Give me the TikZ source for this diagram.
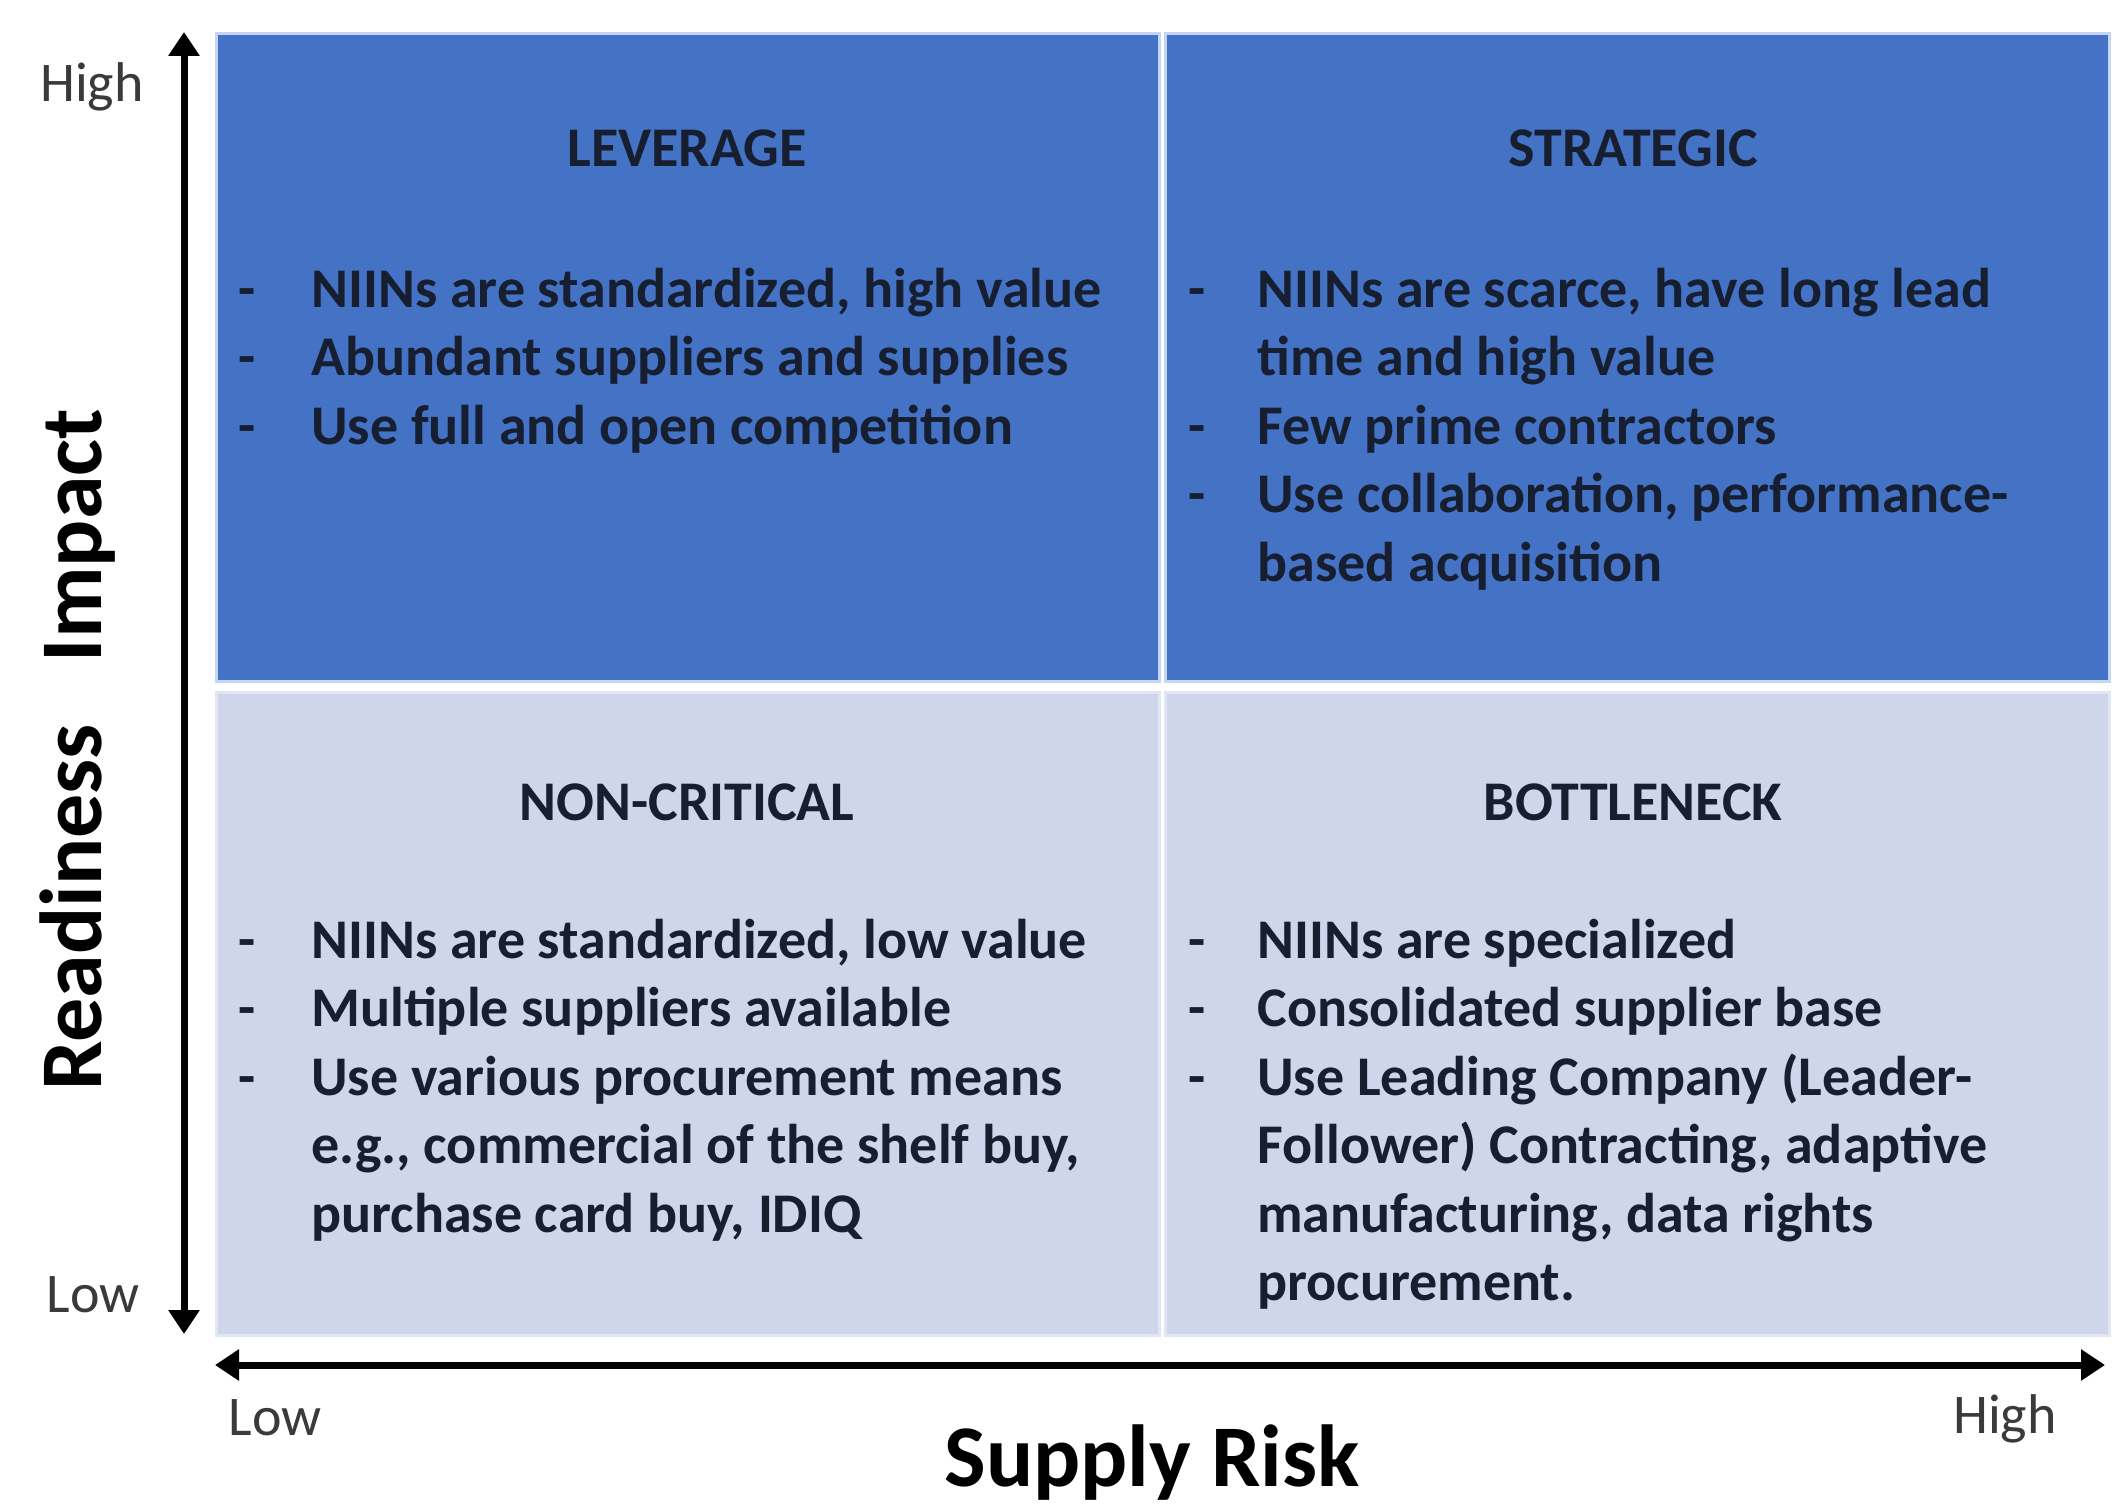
\documentclass[tikz,border=0pt]{standalone}
\usepackage{fontspec}
\setmainfont{Carlito}
\usetikzlibrary{arrows.meta}
\definecolor{qblue}{HTML}{4472C4}
\definecolor{qblueedge}{HTML}{C5D6F4}
\definecolor{qlav}{HTML}{CFD5EA}
\definecolor{qlavedge}{HTML}{E2E6F4}
\definecolor{qtext}{HTML}{161E30}
\definecolor{axlabel}{HTML}{3A3A3A}
\begin{document}
\begin{tikzpicture}[x=0.5pt,y=-0.5pt,
  celltext/.style={font=\bfseries\fontsize{28}{34.25}\selectfont, text=qtext, inner sep=0pt, anchor=base west},
  dashmark/.style={font=\bfseries\fontsize{28}{34.25}\selectfont, text=qtext, inner sep=0pt, anchor=base},
  quadtitle/.style={font=\bfseries\fontsize{28}{34.25}\selectfont, text=qtext, inner sep=0pt, anchor=base},
  ticklab/.style={font=\fontsize{28}{34}\selectfont, text=axlabel, inner sep=0pt, anchor=base},
  axtitle/.style={font=\bfseries\fontsize{44}{52}\selectfont, text=black, inner sep=0pt, anchor=base},
  axisline/.style={line width=3.5pt, {Triangle[length=12pt,width=15pt]}-{Triangle[length=12pt,width=15pt]}},
  hiquad/.style={fill=qblue, draw=qblueedge, line width=1.5pt},
  loquad/.style={fill=qlav, draw=qlavedge, line width=1.5pt}]
\useasboundingbox (0,0) rectangle (2120,1509);
\fill[white] (0,0) rectangle (2120,1509);

% quadrants
\path[hiquad] (216,34) rectangle (1159,681);
\path[hiquad] (1165,34) rectangle (2109,681);
\path[loquad] (216,692) rectangle (1159,1335);
\path[loquad] (1165,692) rectangle (2109,1335);

% axes
\coordinate (ytop) at (184,32);
\coordinate (ybot) at (184,1334);
\coordinate (xleft) at (215,1365);
\coordinate (xright) at (2105,1365);
\draw[axisline] (ybot) -- (ytop);
\draw[axisline] (xleft) -- (xright);

% axis labels
\node[ticklab] (yhigh) at (92,102) {High};
\node[ticklab] (ylow) at (93,1312) {Low};
\node[ticklab] (xlow) at (275,1435) {Low};
\node[ticklab] (xhigh) at (2005,1433) {High};
\node[axtitle] (xtitle) at (1152,1486) {Supply Risk};
\node[axtitle, rotate=90] (ytitle) at (101,750) {Readiness\hspace{31pt}Impact};

% LEVERAGE
\node[quadtitle] (tlT) at (687,167) {LEVERAGE};
\node[dashmark] (tld1) at (247,307) {-};
\node[celltext] (tl1) at (311,307) {NIINs are standardized, high value};
\node[dashmark] (tld2) at (247,375.5) {-};
\node[celltext] (tl2) at (311,375.5) {Abundant suppliers and supplies};
\node[dashmark] (tld3) at (247,444) {-};
\node[celltext] (tl3) at (311,444) {Use full and open competition};

% STRATEGIC
\node[quadtitle] (trT) at (1633,167) {STRATEGIC};
\node[dashmark] (trd1) at (1197,307) {-};
\node[celltext] (tr1a) at (1257,307) {NIINs are scarce, have long lead};
\node[celltext] (tr1b) at (1257,375.5) {time and high value};
\node[dashmark] (trd2) at (1197,444) {-};
\node[celltext] (tr2) at (1257,444) {Few prime contractors};
\node[dashmark] (trd3) at (1197,512.5) {-};
\node[celltext] (tr3a) at (1257,512.5) {Use collaboration, performance-};
\node[celltext] (tr3b) at (1257,581) {based acquisition};

% NON-CRITICAL
\node[quadtitle] (blT) at (687,820) {NON-CRITICAL};
\node[dashmark] (bld1) at (247,958) {-};
\node[celltext] (bl1) at (311,958) {NIINs are standardized, low value};
\node[dashmark] (bld2) at (247,1026.5) {-};
\node[celltext] (bl2) at (311,1026.5) {Multiple suppliers available};
\node[dashmark] (bld3) at (247,1095) {-};
\node[celltext] (bl3a) at (311,1095) {Use various procurement means};
\node[celltext] (bl3b) at (311,1163.5) {e.g., commercial of the shelf buy,};
\node[celltext] (bl3c) at (311,1232) {purchase card buy, IDIQ};

% BOTTLENECK
\node[quadtitle] (brT) at (1633,820) {BOTTLENECK};
\node[dashmark] (brd1) at (1197,958) {-};
\node[celltext] (br1) at (1257,958) {NIINs are specialized};
\node[dashmark] (brd2) at (1197,1026.5) {-};
\node[celltext] (br2) at (1257,1026.5) {Consolidated supplier base};
\node[dashmark] (brd3) at (1197,1095) {-};
\node[celltext] (br3a) at (1257,1095) {Use Leading Company (Leader-};
\node[celltext] (br3b) at (1257,1163.5) {Follower) Contracting, adaptive};
\node[celltext] (br3c) at (1257,1232) {manufacturing, data rights};
\node[celltext] (br3d) at (1257,1300.5) {procurement.};
\end{tikzpicture}
\end{document}
